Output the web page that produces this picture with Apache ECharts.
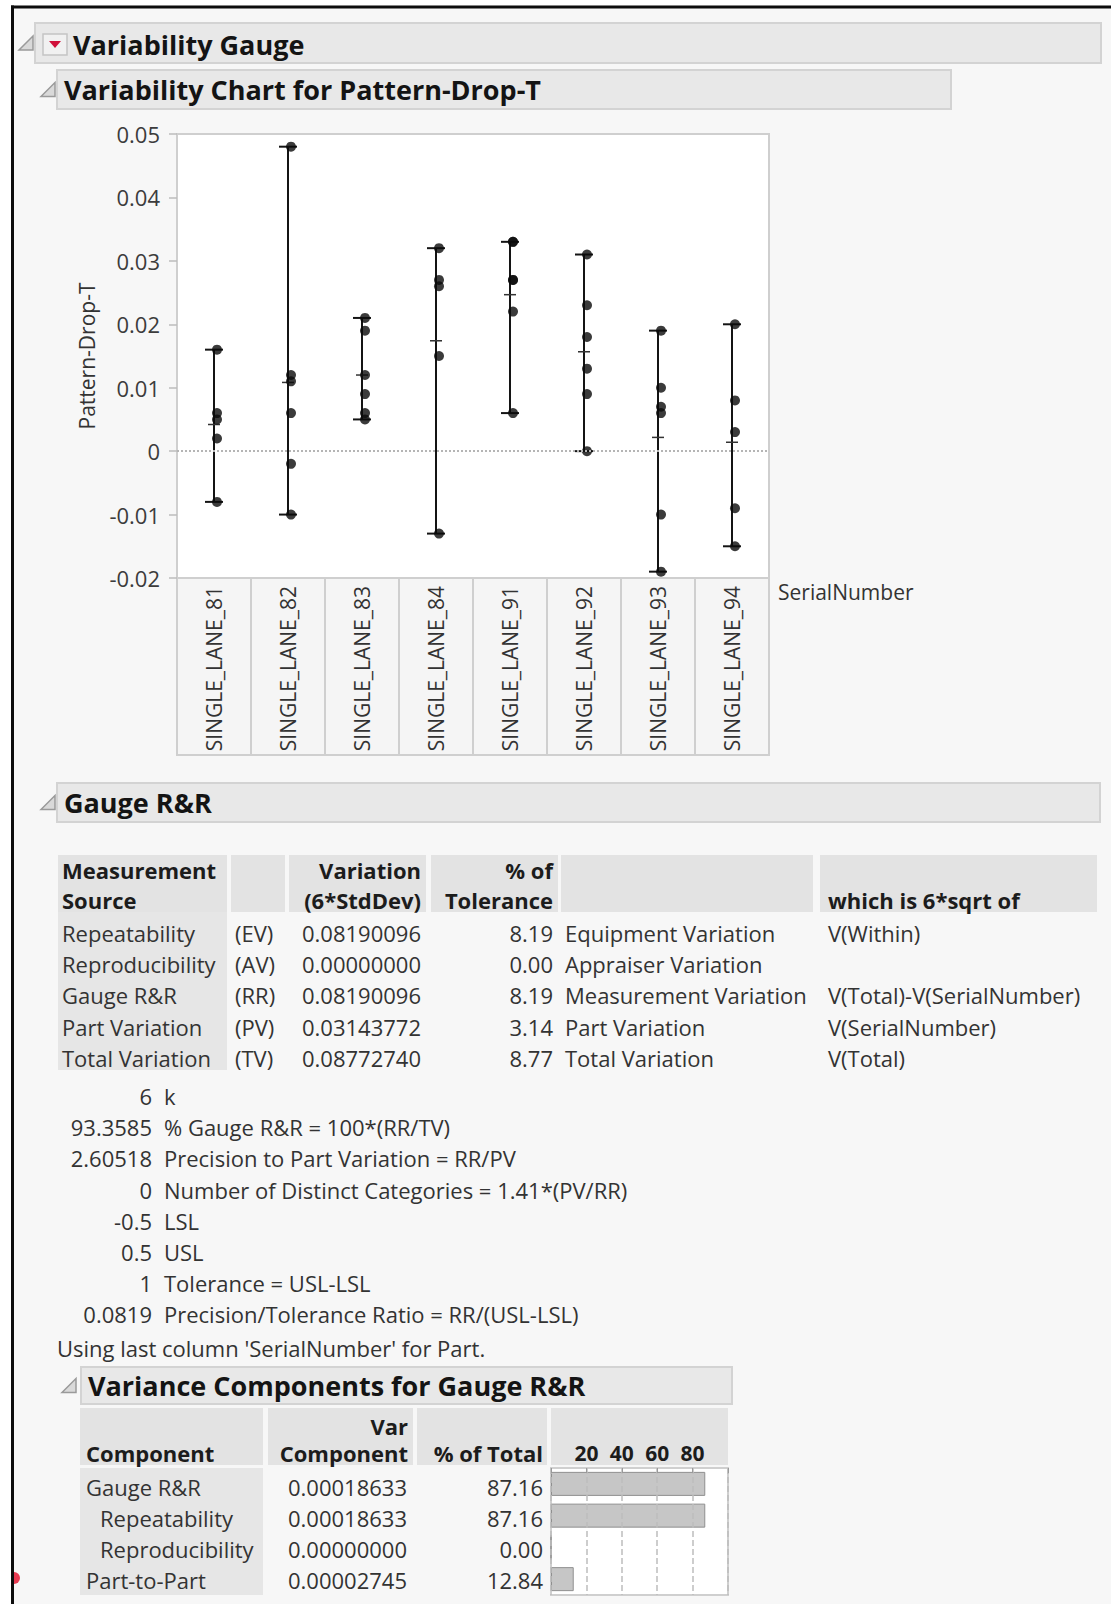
<!DOCTYPE html>
<html>
<head>
<meta charset="utf-8">
<title>Variability Gauge</title>
<script src="https://cdn.jsdelivr.net/npm/echarts@6/dist/echarts.min.js"></script>
<style>
  html, body { margin: 0; padding: 0; background: #ffffff; }
  #main { width: 1111px; height: 1604px; }
</style>
</head>
<body>
<div id="main"></div>
<script>
// ---- Variability chart data (Pattern-Drop-T by SerialNumber) ----
const serialNumbers = ['SINGLE_LANE_81', 'SINGLE_LANE_82', 'SINGLE_LANE_83', 'SINGLE_LANE_84',
                       'SINGLE_LANE_91', 'SINGLE_LANE_92', 'SINGLE_LANE_93', 'SINGLE_LANE_94'];
const lane81 = [0.016, 0.006, 0.005, 0.002, -0.008];
const lane82 = [0.048, 0.012, 0.011, 0.006, -0.002, -0.010];
const lane83 = [0.021, 0.019, 0.012, 0.009, 0.006, 0.005];
const lane84 = [0.032, 0.027, 0.026, 0.015, -0.013];
const lane91 = [0.033, 0.033, 0.027, 0.027, 0.022, 0.006];
const lane92 = [0.031, 0.023, 0.018, 0.013, 0.009, 0.000];
const lane93 = [0.019, 0.010, 0.007, 0.006, -0.010, -0.019];
const lane94 = [0.020, 0.008, 0.003, -0.009, -0.015];
const laneValues = [lane81, lane82, lane83, lane84, lane91, lane92, lane93, lane94];

// ---- Gauge R&R table ----
const sources = ['Repeatability', 'Reproducibility', 'Gauge R&R', 'Part Variation', 'Total Variation'];
const sourceCodes = ['(EV)', '(AV)', '(RR)', '(PV)', '(TV)'];
const variation6sd = [0.08190096, 0.00000000, 0.08190096, 0.03143772, 0.08772740];
const pctTolerance = [8.19, 0.00, 8.19, 3.14, 8.77];
const variationNames = ['Equipment Variation', 'Appraiser Variation', 'Measurement Variation', 'Part Variation', 'Total Variation'];
const sqrtOf = ['V(Within)', '', 'V(Total)-V(SerialNumber)', 'V(SerialNumber)', 'V(Total)'];

const summaryValues = ['6', '93.3585', '2.60518', '0', '-0.5', '0.5', '1', '0.0819'];
const summaryLabels = ['k', '% Gauge R&R = 100*(RR/TV)', 'Precision to Part Variation = RR/PV',
                       'Number of Distinct Categories = 1.41*(PV/RR)', 'LSL', 'USL',
                       'Tolerance = USL-LSL', 'Precision/Tolerance Ratio = RR/(USL-LSL)'];

// ---- Variance components ----
const components = ['Gauge R&R', 'Repeatability', 'Reproducibility', 'Part-to-Part'];
const componentIndent = [0, 1, 1, 0];
const varComponent = [0.00018633, 0.00018633, 0.00000000, 0.00002745];
const pctOfTotal = [87.16, 87.16, 0.00, 12.84];

// ---------------------------------------------------------------
const FONT = '"Open Sans", "Noto Sans", "DejaVu Sans", sans-serif';
const TEXT = '#333333';
const HEAD = '#1c1c1c';
const BODY_SIZE = 22;

function txt(text, x, y, o) {
  o = o || {};
  const size = o.size || BODY_SIZE;
  const weight = o.bold ? 'bold' : 'normal';
  return {
    type: 'text', z: 10,
    style: {
      text: text, x: x, y: y,
      font: weight + ' ' + size + 'px ' + FONT,
      fill: o.color || TEXT,
      textAlign: o.align || 'left', align: o.align || 'left',
      textVerticalAlign: 'middle', verticalAlign: 'middle'
    }
  };
}
function box(x, y, w, h, fill, stroke, lw, z) {
  return { type: 'rect', z: z === undefined ? 1 : z, shape: { x: x, y: y, width: w, height: h },
           style: { fill: fill, stroke: stroke || null, lineWidth: lw || 1 } };
}
function disclosure(x, y, s) {
  // small outline triangle used by the report outline nodes
  return { type: 'polygon', z: 5,
           shape: { points: [[x + s, y], [x + s, y + s], [x, y + s]] },
           style: { fill: '#d9d9d9', stroke: '#9a9a9a', lineWidth: 1.5 } };
}
function headerBar(x, y, w, h, title, triX) {
  return [
    box(x, y, w, h, '#e8e8e8', '#d3d3d3', 2),
    disclosure(triX, y + h / 2 - 7, 14),
    txt(title, x + 7, y + h / 2, { bold: true, size: 27, color: '#141414' })
  ];
}

const g = [];
// page frame
g.push(box(0, 0, 11, 1604, '#ffffff', null, 1, 2));
g.push(box(0, 0, 1111, 5.5, '#ffffff', null, 1, 2));
g.push({ type: 'sector', z: 2, shape: { cx: 14, cy: 1578, r0: 0, r: 6, startAngle: -Math.PI / 2, endAngle: Math.PI / 2 },
         style: { fill: '#e63950' } });
g.push({ type: 'line', z: 3, shape: { x1: 12.5, y1: 5.5, x2: 12.5, y2: 1604 }, style: { stroke: '#0d0d0d', lineWidth: 3 } });
g.push({ type: 'line', z: 3, shape: { x1: 11, y1: 7, x2: 1111, y2: 7 }, style: { stroke: '#0d0d0d', lineWidth: 3 } });

// outline headers
g.push(box(35, 23, 1066, 40, '#e8e8e8', '#d3d3d3', 2));
g.push(disclosure(19, 36, 14));
g.push(box(43, 34, 24, 21, '#f1f1f1', '#c4c4c4', 1.5));
g.push({ type: 'polygon', z: 6, shape: { points: [[49, 41], [61, 41], [55, 48]] }, style: { fill: '#d0103a' } });
g.push(txt('Variability Gauge', 73, 44, { bold: true, size: 27, color: '#141414' }));
g.push.apply(g, headerBar(57, 70, 894, 39, 'Variability Chart for Pattern-Drop-T', 41));
g.push.apply(g, headerBar(57, 783, 1043, 39, 'Gauge R&R', 41));
g.push.apply(g, headerBar(81, 1367, 651, 37, 'Variance Components for Gauge R&R', 62));

// Gauge R&R table: header cells
const hdrFill = '#e3e3e3';
[[58, 169], [231, 54], [289, 137], [431, 127], [561, 252], [820, 277]].forEach(function (c) {
  g.push(box(c[0], 855, c[1], 57, hdrFill));
});
g.push(box(58, 912, 169, 158, '#e6e6e6'));
g.push(txt('Measurement', 62, 870, { bold: true, color: HEAD }));
g.push(txt('Source', 62, 900, { bold: true, color: HEAD }));
g.push(txt('Variation', 421, 870, { bold: true, color: HEAD, align: 'right' }));
g.push(txt('(6*StdDev)', 421, 900, { bold: true, color: HEAD, align: 'right' }));
g.push(txt('% of', 553, 870, { bold: true, color: HEAD, align: 'right' }));
g.push(txt('Tolerance', 553, 900, { bold: true, color: HEAD, align: 'right' }));
g.push(txt('which is 6*sqrt of', 828, 900, { bold: true, color: HEAD }));
sources.forEach(function (s, i) {
  const y = 933 + i * 31.2;
  g.push(txt(s, 62, y));
  g.push(txt(sourceCodes[i], 235, y));
  g.push(txt(variation6sd[i].toFixed(8), 421, y, { align: 'right' }));
  g.push(txt(pctTolerance[i].toFixed(2), 553, y, { align: 'right' }));
  g.push(txt(variationNames[i], 565, y));
  if (sqrtOf[i]) g.push(txt(sqrtOf[i], 828, y));
});

// summary statistics
summaryValues.forEach(function (v, i) {
  const y = 1096 + i * 31.2;
  g.push(txt(v, 152, y, { align: 'right' }));
  g.push(txt(summaryLabels[i], 164, y));
});
g.push(txt("Using last column 'SerialNumber' for Part.", 57, 1348));

// variance components table
[[80, 183], [268, 145], [417, 130], [551, 177]].forEach(function (c) {
  g.push(box(c[0], 1408, c[1], 57, hdrFill, null, 1, 0));
});
g.push(box(80, 1468, 183, 127, '#e6e6e6'));
g.push(txt('Component', 86, 1453, { bold: true, color: HEAD }));
g.push(txt('Var', 408, 1426, { bold: true, color: HEAD, align: 'right' }));
g.push(txt('Component', 408, 1453, { bold: true, color: HEAD, align: 'right' }));
g.push(txt('% of Total', 543, 1453, { bold: true, color: HEAD, align: 'right' }));
components.forEach(function (c, i) {
  const y = 1487 + i * 31;
  g.push(txt(c, componentIndent[i] ? 100 : 86, y));
  g.push(txt(varComponent[i].toFixed(8), 407, y, { align: 'right' }));
  g.push(txt(pctOfTotal[i].toFixed(2), 543, y, { align: 'right' }));
});

// ---- series data built from the arrays above ----
const pointData = [];
const rangeData = [];
laneValues.forEach(function (vals, i) {
  vals.forEach(function (v) { pointData.push([i, v]); });
  const mean = vals.reduce(function (a, b) { return a + b; }, 0) / vals.length;
  rangeData.push([i, Math.min.apply(null, vals), Math.max.apply(null, vals), mean]);
});

const chart = echarts.init(document.getElementById('main'), null, { renderer: 'svg', width: 1111, height: 1604 });
chart.setOption({
  animation: false,
  backgroundColor: '#f7f7f7',
  textStyle: { fontFamily: FONT },
  graphic: { elements: g },
  grid: [
    { left: 177, top: 134, width: 592, height: 444, show: true, backgroundColor: '#ffffff', borderColor: '#cfcfcf', borderWidth: 2, containLabel: false },
    { left: 177, top: 578, width: 592, height: 177, show: true, backgroundColor: '#f5f5f5', borderColor: '#cfcfcf', borderWidth: 2 },
    { left: 551, top: 1468, width: 177, height: 127, show: true, backgroundColor: '#ffffff', borderColor: '#cfcfcf', borderWidth: 2 }
  ],
  xAxis: [
    {
      gridIndex: 0, type: 'category', data: serialNumbers, boundaryGap: true, position: 'bottom',
      axisLine: { show: false, onZero: false }, axisTick: { show: false },
      axisLabel: { rotate: 90, margin: 8, fontSize: 21, color: TEXT, interval: 0, fontFamily: FONT },
      name: 'SerialNumber', nameLocation: 'end', nameGap: 9,
      nameTextStyle: { fontSize: 21, color: TEXT, align: 'left', verticalAlign: 'top', padding: [3, 0, 0, 0], fontFamily: FONT }
    },
    {
      gridIndex: 1, type: 'category', data: serialNumbers, boundaryGap: true,
      axisLine: { show: false, onZero: false }, axisTick: { show: false }, axisLabel: { show: false },
      splitLine: { show: true, interval: 0, lineStyle: { color: '#cfcfcf', width: 2 } }
    },
    {
      gridIndex: 2, type: 'value', min: 0, max: 100, interval: 20, position: 'top', z: 20,
      axisLine: { show: false, onZero: false },
      axisTick: { show: true, inside: true, length: 5, lineStyle: { color: '#9a9a9a' } },
      axisLabel: {
        show: true, margin: 5, fontSize: 21, fontWeight: 'bold', color: HEAD, fontFamily: FONT,
        formatter: function (v) { return (v > 0 && v < 100) ? String(v) : ''; }
      },
      splitLine: { show: true, lineStyle: { color: '#bdbdbd', type: 'dashed', width: 1.5 } }
    }
  ],
  yAxis: [
    {
      gridIndex: 0, type: 'value', min: -0.02, max: 0.05, interval: 0.01,
      axisLine: { show: false },
      axisTick: { show: true, length: 8, lineStyle: { color: '#bdbdbd', width: 1.5 } },
      splitLine: { show: false },
      axisLabel: {
        margin: 17, fontSize: 22, color: '#3c3c3c', fontFamily: FONT,
        formatter: function (v) { return Math.abs(v) < 1e-9 ? '0' : v.toFixed(2); }
      },
      name: 'Pattern-Drop-T', nameLocation: 'middle', nameGap: 80, nameRotate: 90,
      nameTextStyle: { fontSize: 21, color: TEXT, fontFamily: FONT }
    },
    { gridIndex: 1, type: 'value', show: false, min: 0, max: 1 },
    { gridIndex: 2, type: 'category', data: components, inverse: true, show: false }
  ],
  series: [
    {
      name: 'zero', type: 'line', xAxisIndex: 0, yAxisIndex: 0, data: [], silent: true,
      markLine: {
        symbol: 'none', silent: true, label: { show: false },
        lineStyle: { color: '#b5b5b5', type: 'dotted', width: 2 },
        data: [{ yAxis: 0 }]
      }
    },
    {
      name: 'range', type: 'custom', xAxisIndex: 0, yAxisIndex: 0, data: rangeData, z: 3,
      renderItem: function (params, api) {
        const hi = api.coord([api.value(0), api.value(2)]);
        const lo = api.coord([api.value(0), api.value(1)]);
        const mid = api.coord([api.value(0), api.value(3)]);
        const x = hi[0];
        const s = { stroke: '#141414', lineWidth: 2 };
        return {
          type: 'group', children: [
            { type: 'line', shape: { x1: x, y1: hi[1], x2: x, y2: lo[1] }, style: s },
            { type: 'line', shape: { x1: x - 9, y1: hi[1], x2: x + 9, y2: hi[1] }, style: s },
            { type: 'line', shape: { x1: x - 9, y1: lo[1], x2: x + 9, y2: lo[1] }, style: s },
            { type: 'line', shape: { x1: x - 6, y1: mid[1], x2: x + 6, y2: mid[1] }, style: { stroke: '#333', lineWidth: 1.5 } }
          ]
        };
      }
    },
    {
      name: 'Pattern-Drop-T', type: 'scatter', xAxisIndex: 0, yAxisIndex: 0, data: pointData, z: 4,
      symbol: 'circle', symbolSize: 10, symbolOffset: [3, 0],
      itemStyle: { color: '#0a0a0a' }
    },
    {
      name: 'blank', type: 'scatter', xAxisIndex: 1, yAxisIndex: 1, data: [], silent: true
    },
    {
      name: '% of Total', type: 'bar', xAxisIndex: 2, yAxisIndex: 2, data: pctOfTotal, barWidth: 24,
      itemStyle: { color: '#c6c6c6', borderColor: '#8f8f8f', borderWidth: 1 }, silent: true
    }
  ]
});
</script>
</body>
</html>
